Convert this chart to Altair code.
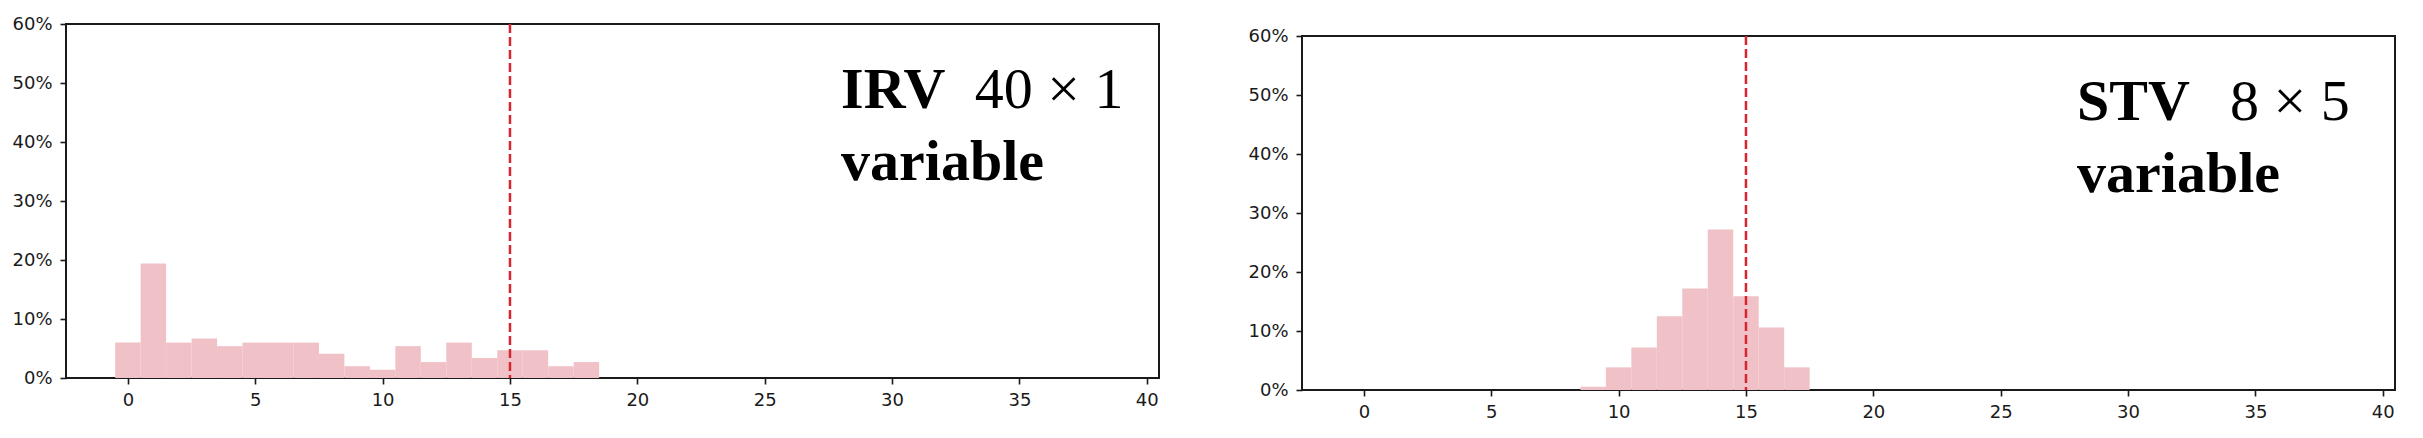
import altair as alt
import pandas as pd

# ---- data ----
irv_bins = list(range(0, 19))
irv_pct = [6.0, 19.4, 6.0, 6.7, 5.4, 6.0, 6.0, 6.0, 4.1, 2.0, 1.4, 5.4, 2.7, 6.0, 3.4, 4.7, 4.7, 2.0, 2.7]

stv_bins = list(range(9, 18))
stv_pct = [0.56, 3.84, 7.2, 12.5, 17.2, 27.2, 15.9, 10.6, 3.84]

threshold = 15
x_ticks = [0, 5, 10, 15, 20, 25, 30, 35, 40]
y_ticks = [0, 0.1, 0.2, 0.3, 0.4, 0.5, 0.6]

panels = [
    {"method": "IRV", "dims": "40 × 1", "sub": "variable", "bins": irv_bins, "pct": irv_pct,
     "dims_x": 33.25},
    {"method": "STV", "dims": "8 × 5", "sub": "variable", "bins": stv_bins, "pct": stv_pct,
     "dims_x": 34.0},
]

X_DOMAIN = [-2.43, 40.48]
W, H = 1093, 354
BAR_COLOR = "#F0C1C6"
LINE_COLOR = "#D62730"
FONT = "DejaVu Sans"


def make_panel(p):
    df = pd.DataFrame({
        "bin": p["bins"],
        "pct": [v / 100 for v in p["pct"]],
    })
    df["x0"] = df["bin"] - 0.5
    df["x1"] = df["bin"] + 0.5

    xscale = alt.Scale(domain=X_DOMAIN, nice=False, zero=False)
    yscale = alt.Scale(domain=[0, 0.6], nice=False)

    bars = alt.Chart(df).mark_rect(color=BAR_COLOR, opacity=1).encode(
        x=alt.X("x0:Q", scale=xscale, title=None,
                axis=alt.Axis(values=x_ticks, format="d")),
        x2="x1:Q",
        y=alt.Y("pct:Q", scale=yscale, title=None,
                axis=alt.Axis(values=y_ticks, format=".0%")),
        y2=alt.datum(0),
    )

    rule = alt.Chart(pd.DataFrame({"t": [threshold]})).mark_rule(
        color=LINE_COLOR, strokeWidth=2.5, strokeDash=[9, 4]
    ).encode(x=alt.X("t:Q", scale=xscale))

    ann = pd.DataFrame({
        "x": [28.0, p["dims_x"], 28.0],
        "y": [0.458, 0.458, 0.3356],
        "label": [p["method"], p["dims"], p["sub"]],
        "w": ["bold", "normal", "bold"],
    })
    t_bold = alt.Chart(ann[ann["w"] == "bold"]).mark_text(
        font="Liberation Serif", fontSize=58, fontWeight="bold", align="left",
        baseline="alphabetic", color="black"
    ).encode(x=alt.X("x:Q", scale=xscale), y=alt.Y("y:Q", scale=yscale), text="label:N")
    t_norm = alt.Chart(ann[ann["w"] == "normal"]).mark_text(
        font="Liberation Serif", fontSize=58, fontWeight="normal", align="left",
        baseline="alphabetic", color="black"
    ).encode(x=alt.X("x:Q", scale=xscale), y=alt.Y("y:Q", scale=yscale), text="label:N")

    return alt.layer(bars, rule, t_bold, t_norm).properties(width=W, height=H)


spacer = alt.Chart(pd.DataFrame({"a": [0]})).mark_point(opacity=0).encode(
    x=alt.value(0), y=alt.value(0)
).properties(width=W, height=1, view=alt.ViewBackground(stroke="transparent"))

chart = alt.hconcat(
    make_panel(panels[0]),
    alt.vconcat(spacer, make_panel(panels[1]), spacing=-2),
    spacing=86,
).properties(
    padding={"left": 2, "top": 6, "right": 5, "bottom": 5}
).configure_view(
    stroke="#1a1a1a", strokeWidth=2
).configure_axis(
    domain=False, grid=False,
    tickColor="#1a1a1a", tickWidth=1.6, tickSize=6,
    labelFont=FONT, labelFontSize=18, labelColor="#1a1a1a", labelPadding=7,
).configure_axisY(
    labelPadding=8
)

chart.save("out.html", embed_options={"renderer": "svg", "actions": False})
